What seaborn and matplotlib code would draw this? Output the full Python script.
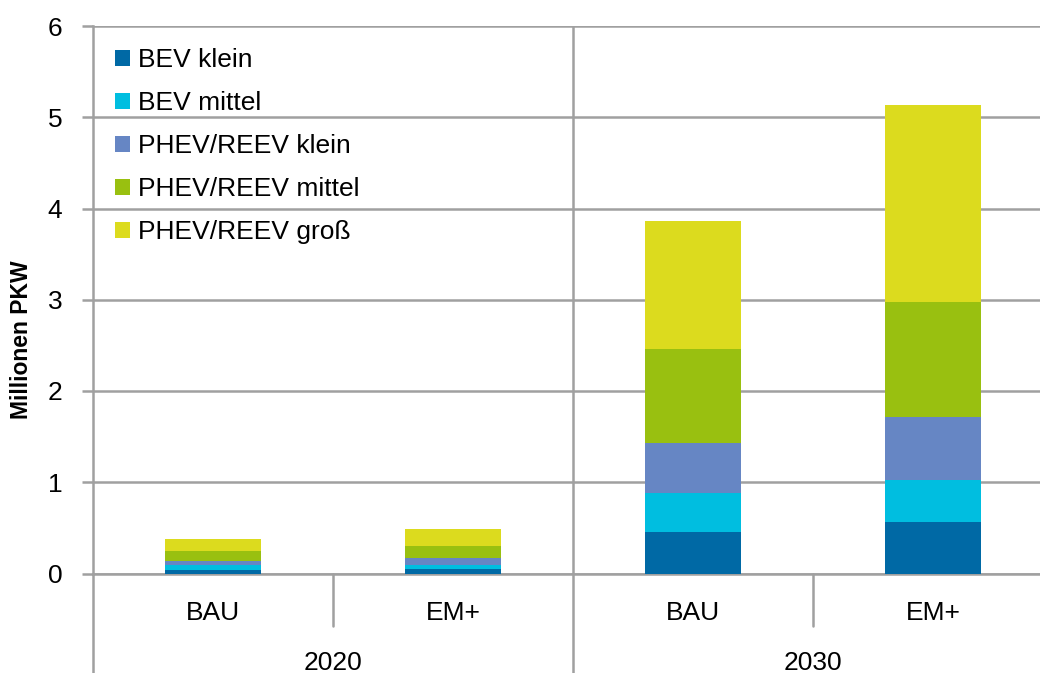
import matplotlib
matplotlib.use("Agg")
import matplotlib.pyplot as plt
import matplotlib.transforms as mtransforms
from matplotlib.patches import Patch
import seaborn as sns
import pandas as pd
import numpy as np

# data (Millionen PKW)
years = ["2020", "2020", "2030", "2030"]
scenarios = ["BAU", "EM+", "BAU", "EM+"]
series = ["BEV klein", "BEV mittel", "PHEV/REEV klein", "PHEV/REEV mittel", "PHEV/REEV groß"]
bev_klein = [0.04, 0.05, 0.46, 0.56]
bev_mittel = [0.05, 0.04, 0.42, 0.47]
phev_klein = [0.05, 0.08, 0.55, 0.69]
phev_mittel = [0.11, 0.13, 1.03, 1.26]
phev_gross = [0.13, 0.19, 1.40, 2.15]
colors = ["#0069a5", "#00bee0", "#6686c4", "#99c010", "#dcdb1e"]

values = [bev_klein, bev_mittel, phev_klein, phev_mittel, phev_gross]
cats = [y + " " + s for y, s in zip(years, scenarios)]

sns.set_style("white")
plt.rcParams["font.family"] = ["Liberation Sans", "DejaVu Sans"]
plt.rcParams["text.color"] = "black"

fig = plt.figure(figsize=(10.4, 6.73), dpi=100)
ax = fig.add_axes([93 / 1040, 1 - 573.5 / 673, 1 - 93 / 1040, 547.5 / 673])

# stacked bars: draw cumulative totals, tallest first
cum = np.cumsum(np.array(values), axis=0)
for i in reversed(range(len(series))):
    df = pd.DataFrame({"cat": cats, "val": cum[i]})
    sns.barplot(data=df, x="cat", y="val", order=cats, color=colors[i],
                width=0.4, saturation=1, linewidth=0, edgecolor="none",
                ax=ax, zorder=3)

grid_c = "#a0a0a0"
ax.set_ylim(0, 6)
ax.set_xlim(-0.5, 3.446)
ax.set_yticks(range(7))
ax.set_yticklabels([str(i) for i in range(7)], fontsize=19, color="black")
ax.yaxis.grid(True, color=grid_c, linewidth=1.8, zorder=0)
ax.axvline(1.5, color=grid_c, linewidth=1.8, zorder=1)
ax.set_axisbelow(True)

for side in ["top", "right"]:
    ax.spines[side].set_visible(False)
for side in ["left", "bottom"]:
    ax.spines[side].set_color(grid_c)
    ax.spines[side].set_linewidth(1.8)
ax.tick_params(axis="y", length=8, width=1.8, color=grid_c, pad=14, left=True)

ax.set_xticks(range(4))
ax.set_xticklabels(scenarios, fontsize=19, color="black")
ax.tick_params(axis="x", length=0, pad=20)
ax.set_xlabel("")
ax.set_ylabel("Millionen PKW", fontsize=16.5, fontweight="bold", color="black")
ax.yaxis.label.set_va("center")
ax.yaxis.set_label_coords(-0.075, 0.427)

# group separators and year labels below the axis
trans = mtransforms.blended_transform_factory(ax.transData, ax.transAxes)
for x, depth in [(-0.5, -0.2), (0.5, -0.095), (1.5, -0.2), (2.5, -0.095)]:
    ax.plot([x, x], [0, depth], transform=trans, color=grid_c, linewidth=1.8,
            clip_on=False)
ax.text(0.5, -0.163, "2020", transform=trans, ha="center", va="center", fontsize=19)
ax.text(2.5, -0.163, "2030", transform=trans, ha="center", va="center", fontsize=19)

handles = [Patch(facecolor=c, edgecolor="none") for c in colors]
ax.legend(handles, series, loc="upper left", bbox_to_anchor=(0.0, 1.0),
          frameon=False, fontsize=19, handlelength=0.55, handleheight=0.55,
          handletextpad=0.3, labelspacing=0.72, borderaxespad=0.45,
          labelcolor="black")

fig.savefig("out.png", dpi=100)
